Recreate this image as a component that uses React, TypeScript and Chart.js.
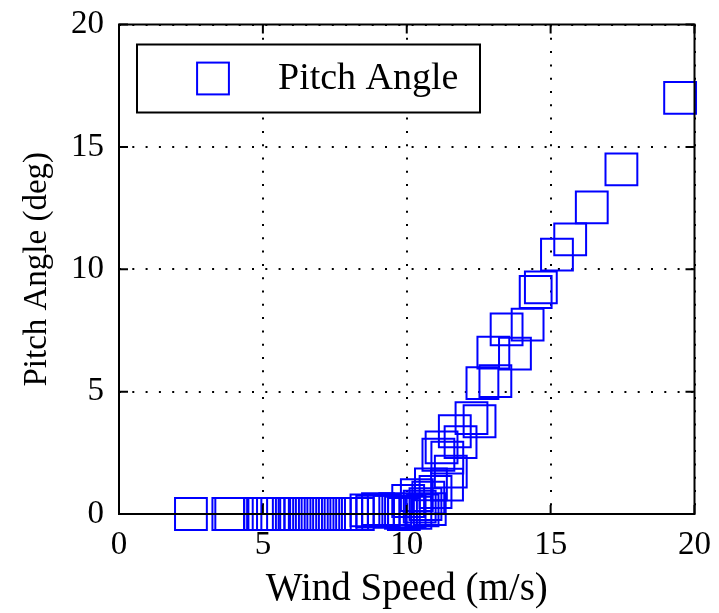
import React, { useEffect, useRef } from "react";
import { Chart, registerables } from "chart.js";

Chart.register(...registerables);

const windSpeed = [
  2.5, 3.8, 3.9, 4.9, 5.05, 5.2, 5.35, 5.5, 5.7, 5.9, 6.1, 6.3, 6.5, 6.7, 6.9,
  7.1, 7.3, 7.5, 7.7, 7.9, 8.1, 8.3, 8.6, 8.8, 9.0, 9.2, 9.4, 9.6, 9.8, 9.9,
  10.05, 10.1, 10.3, 10.35, 10.45, 10.55, 10.65, 10.75, 10.8, 10.84, 11.0,
  11.1, 11.21, 11.4, 11.41, 11.53, 11.67, 11.87, 12.25, 12.53, 12.63, 13.01,
  13.08, 13.47, 13.76, 14.2, 14.48, 14.66, 15.22, 15.68, 16.43, 17.46, 19.5,
];
const pitchAngle = [
  0, 0, 0, 0, 0, 0, 0, 0, 0, 0, 0, 0, 0, 0, 0,
  0, 0, 0, 0, 0, 0, 0, 0.15, 0.1, 0.2, 0.15, 0.1, 0.2, 0.05, 0,
  0.53, 0.1, 0.05, 0.77, 0.3, 0.15, 0.4, 0.67, 0.2, 1.21, 0.9,
  2.42, 2.72, 1.2, 2.3, 1.73, 3.38, 2.94, 3.92, 3.79, 5.35, 6.59,
  5.43, 7.54, 6.55, 7.74, 9.07, 9.26, 10.6, 11.22, 12.53, 14.08, 17.0,
];
const xTicks = [0, 5, 10, 15, 20];
const yTicks = [0, 5, 10, 15, 20];
const seriesLabel = "Pitch Angle";
const xTitle = "Wind Speed (m/s)";
const yTitle = "Pitch Angle (deg)";

const FONT = "'Liberation Serif', 'Times New Roman', serif";
const BLUE = "#0000ff";
const MARKER_R = 22.5;

const boxPlugin = {
  id: "matlabBox",
  afterDatasetsDraw(chart: any) {
    const { ctx, chartArea: a, scales } = chart;
    ctx.save();
    ctx.setLineDash([]);
    ctx.strokeStyle = "#000";
    ctx.lineWidth = 2;
    ctx.strokeRect(a.left, a.top, a.right - a.left, a.bottom - a.top);
    const tl = 9;
    ctx.beginPath();
    xTicks.forEach((v) => {
      const px = scales.x.getPixelForValue(v);
      ctx.moveTo(px, a.bottom);
      ctx.lineTo(px, a.bottom - tl);
      ctx.moveTo(px, a.top);
      ctx.lineTo(px, a.top + tl);
    });
    yTicks.forEach((v) => {
      const py = scales.y.getPixelForValue(v);
      ctx.moveTo(a.left, py);
      ctx.lineTo(a.left + tl, py);
      ctx.moveTo(a.right, py);
      ctx.lineTo(a.right - tl, py);
    });
    ctx.stroke();

    // legend box inside the axes
    const lx = a.left + 18;
    const ly = a.top + 20;
    const lw = 343;
    const lh = 68;
    ctx.fillStyle = "#fff";
    ctx.fillRect(lx, ly, lw, lh);
    ctx.lineWidth = 2;
    ctx.strokeStyle = "#000";
    ctx.strokeRect(lx, ly, lw, lh);
    const side = MARKER_R * Math.SQRT2;
    const mx = lx + 76;
    const my = ly + lh / 2;
    ctx.strokeStyle = BLUE;
    ctx.strokeRect(mx - side / 2, my - side / 2, side, side);
    ctx.fillStyle = "#000";
    ctx.font = `38px ${FONT}`;
    ctx.textAlign = "left";
    ctx.textBaseline = "middle";
    ctx.fillText(chart.data.datasets[0].label, lx + 141, my + 1);
    ctx.restore();
  },
};

const zeroPad = (s: any) => {
  s.paddingTop = 0;
  s.paddingBottom = 0;
  s.paddingLeft = 0;
  s.paddingRight = 0;
};

export default function App() {
  const ref = useRef<HTMLCanvasElement>(null);
  useEffect(() => {
    if (!ref.current) return;
    const data = windSpeed.map((x, i) => ({ x, y: pitchAngle[i] }));
    const chart = new Chart(ref.current, {
      type: "scatter",
      data: {
        datasets: [
          {
            label: seriesLabel,
            data,
            pointStyle: "rect",
            pointRadius: MARKER_R,
            pointHoverRadius: MARKER_R,
            pointBorderWidth: 2,
            borderColor: BLUE,
            backgroundColor: "rgba(0,0,0,0)",
            clip: false as any,
          },
        ],
      },
      options: {
        animation: false,
        responsive: false,
        events: [],
        layout: { padding: { top: 22, right: 20, left: 0, bottom: 0 } },
        plugins: {
          legend: { display: false },
          tooltip: { enabled: false },
        },
        scales: {
          x: {
            type: "linear",
            min: 0,
            max: 20,
            afterBuildTicks: (s: any) => {
              s.ticks = xTicks.map((v) => ({ value: v }));
            },
            afterFit: (s: any) => {
              s.height = 99;
              zeroPad(s);
            },
            grid: { color: "#000", lineWidth: 2, drawTicks: false },
            border: { display: false, dash: [2, 11.3] },
            ticks: {
              color: "#000",
              padding: 12,
              font: { family: FONT, size: 33 },
              maxRotation: 0,
            },
            title: {
              display: true,
              text: xTitle,
              color: "#000",
              font: { family: FONT, size: 39 },
              padding: { top: 0, bottom: 0 },
            },
          },
          y: {
            type: "linear",
            min: 0,
            max: 20,
            afterBuildTicks: (s: any) => {
              s.ticks = yTicks.map((v) => ({ value: v }));
            },
            afterFit: (s: any) => {
              s.width = 119;
              zeroPad(s);
            },
            grid: { color: "#000", lineWidth: 2, drawTicks: false },
            border: { display: false, dash: [2, 11.3] },
            ticks: {
              color: "#000",
              padding: 15,
              font: { family: FONT, size: 33 },
            },
            title: {
              display: true,
              text: yTitle,
              color: "#000",
              font: { family: FONT, size: 33 },
              padding: { top: 18, bottom: 0 },
            },
          },
        },
      },
      plugins: [boxPlugin],
    });
    return () => chart.destroy();
  }, []);
  return (
    <div style={{ position: "fixed", left: 0, top: 0, width: 719, height: 613, background: "#fff" }}>
      <canvas ref={ref} width={719} height={613} style={{ width: 719, height: 613 }} />
    </div>
  );
}
